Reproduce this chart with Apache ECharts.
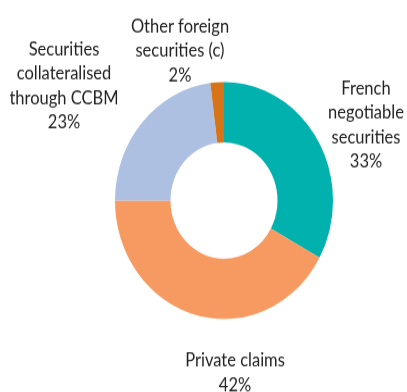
<!DOCTYPE html>
<html>
<head>
<meta charset="utf-8">
<script src="https://cdn.jsdelivr.net/npm/echarts@6/dist/echarts.min.js"></script>
<style>
  html, body { margin: 0; padding: 0; background: #fff; overflow: hidden; }
  #wrap { width: 407px; height: 392px; overflow: hidden; }
  /* the chart is drawn slightly squashed, then stretched back to full height */
  #chart { width: 407px; height: 361px; transform: scaleY(1.087); transform-origin: 0 0; }
</style>
</head>
<body>
<div id="wrap"><div id="chart"></div></div>
<script>
const categories = [
  'French\nnegotiable\nsecurities',
  'Private claims',
  'Securities\ncollateralised\nthrough CCBM',
  'Other foreign\nsecurities (c)'
];
const shares = [33, 42, 23, 2];
const colors = ['#00b1ad', '#f69a62', '#adc0e1', '#d57418'];
// label anchor points (centre of each text block)
const labelSpots = [[366, 115], [235, 343], [64, 79], [180, 47]];

const chart = echarts.init(document.getElementById('chart'), null, { renderer: 'canvas' });
chart.setOption({
  animation: false,
  series: [{
    type: 'pie',
    center: [224, 184.5],
    radius: [53.5, 109],
    startAngle: 90,
    clockwise: true,
    avoidLabelOverlap: false,
    itemStyle: { borderWidth: 0 },
    label: {
      show: true,
      position: 'outside',
      formatter: '{b}\n{c}%',
      color: '#222',
      fontFamily: 'Lato',
      fontSize: 16.5,
      lineHeight: 22.5,
      align: 'center'
    },
    labelLine: { show: false },
    labelLayout: function (p) {
      const s = labelSpots[p.dataIndex];
      return { x: s[0], y: s[1], align: 'center', verticalAlign: 'middle' };
    },
    emphasis: { disabled: true },
    data: categories.map((name, i) => ({
      name: name,
      value: shares[i],
      itemStyle: { color: colors[i] }
    }))
  }]
});
</script>
</body>
</html>
